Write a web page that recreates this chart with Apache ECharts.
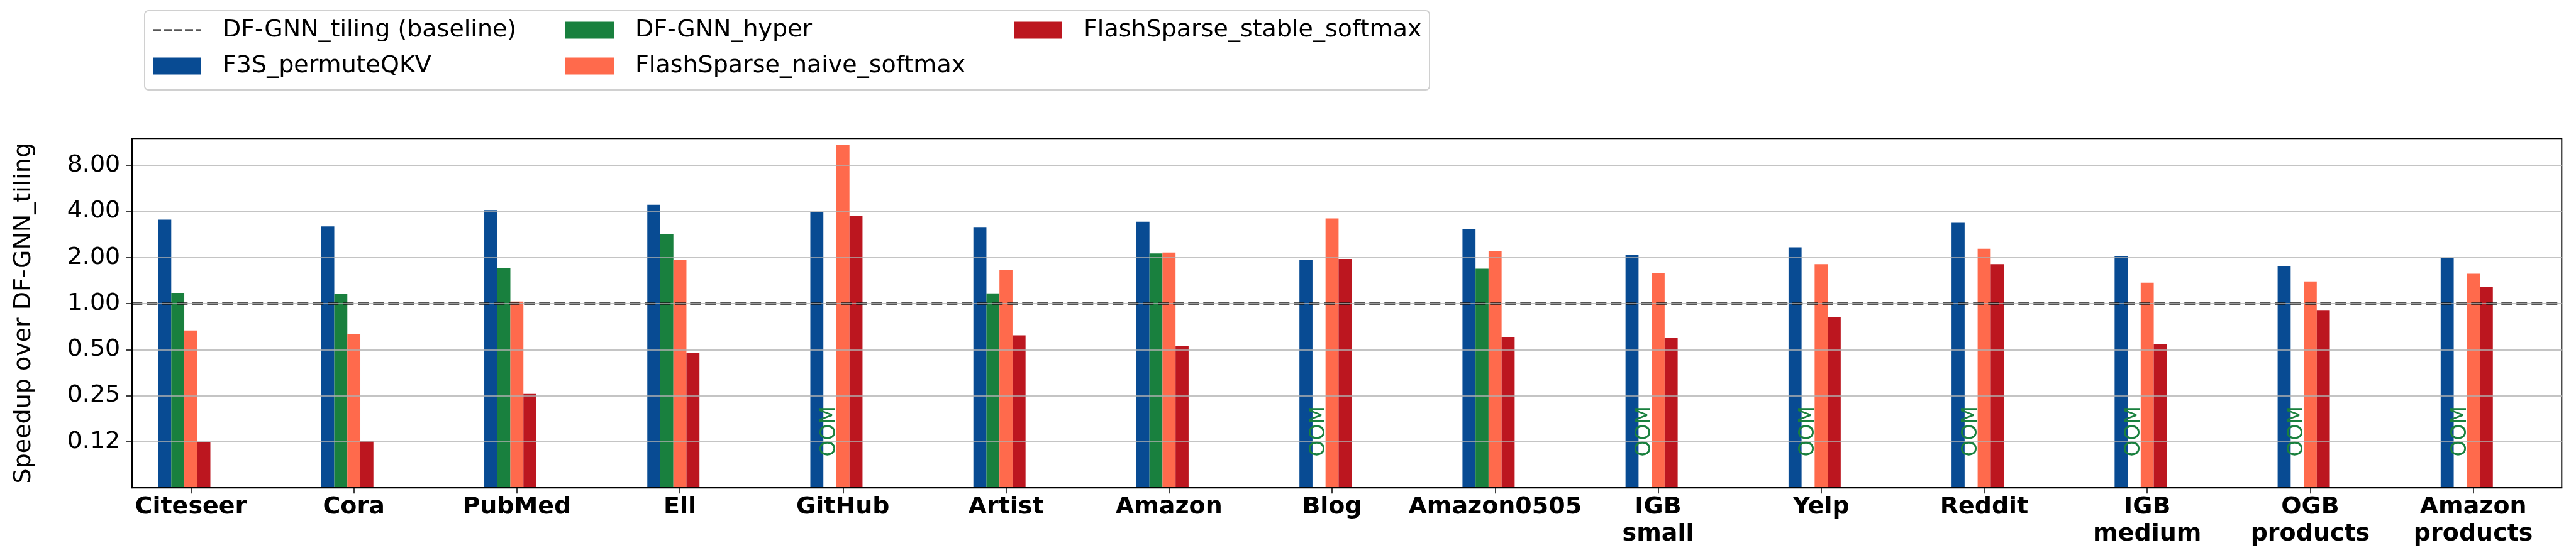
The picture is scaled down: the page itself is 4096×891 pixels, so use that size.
<!DOCTYPE html>
<html>
<head>
<meta charset="utf-8">
<script src="https://cdn.jsdelivr.net/npm/echarts@6/dist/echarts.min.js"></script>
<style>
html,body{margin:0;padding:0;background:#fff;}
#chart{width:4096px;height:891px;}
</style>
</head>
<body>
<div id="chart"></div>
<script>
// ---- data ----
const categories = ['Citeseer','Cora','PubMed','Ell','GitHub','Artist','Amazon','Blog','Amazon0505','IGB\nsmall','Yelp','Reddit','IGB\nmedium','OGB\nproducts','Amazon\nproducts'];
const seriesNames = ['DF-GNN_tiling (baseline)','F3S_permuteQKV','DF-GNN_hyper','FlashSparse_naive_softmax','FlashSparse_stable_softmax'];
const f3sPermuteQKV = [3.53, 3.19, 4.08, 4.42, 3.96, 3.16, 3.43, 1.93, 3.06, 2.07, 2.33, 3.37, 2.05, 1.745, 1.977];
const dfgnnHyper = [1.175, 1.151, 1.697, 2.84, null, 1.166, 2.127, null, 1.69, null, null, null, null, null, null]; // null = OOM
const flashNaive = [0.667, 0.630, 1.03, 1.93, 10.94, 1.66, 2.156, 3.60, 2.19, 1.578, 1.81, 2.28, 1.369, 1.397, 1.567];
const flashStable = [0.125, 0.127, 0.257, 0.478, 3.76, 0.620, 0.527, 1.957, 0.606, 0.597, 0.816, 1.81, 0.546, 0.899, 1.286];
const baselineValue = 1.0;
const oomLevel = 0.1;
const yTickValues = [0.125, 0.25, 0.5, 1, 2, 4, 8];
const yTickLabels = ['0.12', '0.25', '0.50', '1.00', '2.00', '4.00', '8.00'];
const yMin = 0.0625, yMax = 12;

// ---- style ----
const FONT = 'DejaVu Sans';
const COLORS = { blue: '#084b93', green: '#19803e', orange: '#ff6a4c', red: '#bc161f', base: 'rgba(20,20,20,0.72)' };
const FS = 38;

const idx = categories.map((_, i) => i);
const pair = arr => arr.map((v, i) => [i, v]);

const hyperData = dfgnnHyper.map((v, i) => v == null ? {
  value: [i, oomLevel],
  itemStyle: { color: 'rgba(0,0,0,0)' },
  label: {
    show: true, formatter: 'OOM', position: 'top', distance: 0, rotate: 90,
    align: 'left', verticalAlign: 'middle',
    color: COLORS.green, fontFamily: FONT, fontSize: 33
  }
} : [i, v]);

const barCommon = { type: 'bar', barWidth: '8%', barGap: '0%', z: 2 };
const dashStyle = { type: [17, 7], color: COLORS.base, width: 3.8 };
const dashIcon = 'path://M0,0h13v3.6h-13z M17,0h13v3.6h-13z M34,0h13v3.6h-13z M51,0h13v3.6h-13z M68,0h9v3.6h-9z';

const chart = echarts.init(document.getElementById('chart'), null, { renderer: 'canvas' });

const legendCommon = {
  orient: 'vertical', padding: 0, itemWidth: 77, itemHeight: 27, itemGap: 17,
  textStyle: { fontFamily: FONT, fontSize: FS, color: '#000', lineHeight: 40, padding: [0, 0, 0, 29] },
  top: 28
};

chart.setOption({
  animation: false,
  backgroundColor: '#fff',
  textStyle: { fontFamily: FONT },
  graphic: [{
    type: 'rect', z: 0, silent: true,
    shape: { x: 230, y: 17, width: 2043, height: 126, r: 6 },
    style: { fill: 'rgba(255,255,255,0)', stroke: '#d0d0d0', lineWidth: 2 }
  }],
  legend: [
    Object.assign({}, legendCommon, { left: 243, data: [ { name: seriesNames[0], icon: dashIcon }, { name: seriesNames[1], icon: 'rect' } ] }),
    Object.assign({}, legendCommon, { left: 899, data: [ { name: seriesNames[2], icon: 'rect' }, { name: seriesNames[3], icon: 'rect' } ] }),
    Object.assign({}, legendCommon, { left: 1612, data: [ { name: seriesNames[4], icon: 'rect' } ] })
  ],
  grid: {
    left: 209.3, right: 22.7, top: 220.2, bottom: 114.8,
    show: true, borderColor: '#000', borderWidth: 2, backgroundColor: 'rgba(0,0,0,0)'
  },
  xAxis: {
    type: 'value', min: -0.363, max: 14.5425, z: 10,
    axisLine: { show: true, onZero: false, lineStyle: { color: '#000', width: 2 } },
    axisTick: { show: true, length: 9, customValues: idx, lineStyle: { color: '#000', width: 1.5 } },
    axisLabel: {
      customValues: idx, margin: 10,
      formatter: v => categories[Math.round(v)] || '',
      fontFamily: FONT, fontSize: FS, fontWeight: 'bold', color: '#000', lineHeight: 42.5
    },
    splitLine: { show: false }
  },
  yAxis: {
    type: 'log', logBase: 2, min: yMin, max: yMax, startValue: yMin, z: 10,
    name: 'Speedup over DF-GNN_tiling', nameLocation: 'middle', nameRotate: 90, nameGap: 152,
    nameTextStyle: { fontFamily: FONT, fontSize: FS, color: '#000' },
    axisLine: { show: true, onZero: false, lineStyle: { color: '#000', width: 2 } },
    axisTick: { show: true, length: 9, customValues: yTickValues, lineStyle: { color: '#000', width: 1.5 } },
    axisLabel: {
      customValues: yTickValues, margin: 18,
      formatter: v => {
        let best = -1, bd = 1e9;
        yTickValues.forEach((t, k) => { const d = Math.abs(Math.log2(v) - Math.log2(t)); if (d < bd) { bd = d; best = k; } });
        return bd < 0.01 ? yTickLabels[best] : '';
      },
      fontFamily: FONT, fontSize: FS, color: '#000'
    },
    splitLine: { show: true, lineStyle: { color: 'rgba(176,176,176,0.75)', width: 2 } }
  },
  series: [
    {
      name: seriesNames[0], type: 'line', data: [], symbol: 'none', showSymbol: false, z: 20,
      lineStyle: dashStyle, itemStyle: { color: COLORS.base },
      markLine: {
        silent: true, symbol: ['none', 'none'], label: { show: false },
        lineStyle: dashStyle, data: [{ yAxis: baselineValue }]
      }
    },
    Object.assign({}, barCommon, { name: seriesNames[1], data: pair(f3sPermuteQKV), itemStyle: { color: COLORS.blue } }),
    Object.assign({}, barCommon, { name: seriesNames[2], data: hyperData, itemStyle: { color: COLORS.green } }),
    Object.assign({}, barCommon, { name: seriesNames[3], data: pair(flashNaive), itemStyle: { color: COLORS.orange } }),
    Object.assign({}, barCommon, { name: seriesNames[4], data: pair(flashStable), itemStyle: { color: COLORS.red } }),
    Object.assign({}, barCommon, { name: '_slot', data: [], itemStyle: { color: 'rgba(0,0,0,0)' } })
  ]
});
</script>
</body>
</html>
